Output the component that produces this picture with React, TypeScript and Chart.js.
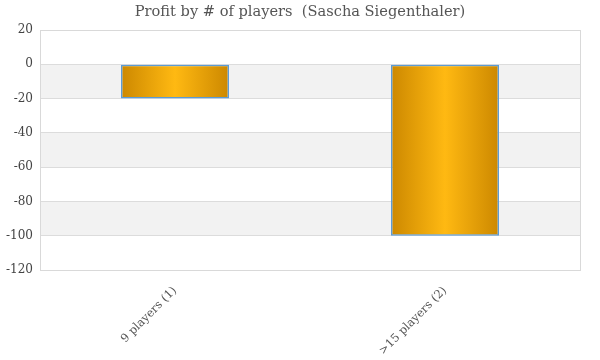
import React, { useEffect, useRef } from "react";
import { Chart, registerables } from "chart.js";

Chart.register(...registerables);

const categories = ["9 players (1)", ">15 players (2)"];
const profit = [-20, -100];
const yMin = -120;
const yMax = 20;
const yStep = 20;
const title = "Profit by # of players  (Sascha Siegenthaler)";

const FONT = "'DejaVu Serif', 'Liberation Serif', Georgia, serif";

const bandsPlugin = {
  id: "bands",
  beforeDraw(chart: any) {
    const { ctx, chartArea, scales } = chart;
    const y = scales.y;
    ctx.save();
    ctx.fillStyle = "#f2f2f2";
    for (let v = 0; v > yMin; v -= 2 * yStep) {
      const top = y.getPixelForValue(v);
      const bot = y.getPixelForValue(v - yStep);
      ctx.fillRect(chartArea.left, top, chartArea.right - chartArea.left, bot - top);
    }
    ctx.restore();
  },
  afterDatasetsDraw(chart: any) {
    const { ctx, chartArea } = chart;
    ctx.save();
    ctx.strokeStyle = "#d9d9d9";
    ctx.lineWidth = 1;
    ctx.strokeRect(
      Math.round(chartArea.left) + 0.5,
      Math.round(chartArea.top) + 0.5,
      Math.round(chartArea.right - chartArea.left),
      Math.round(chartArea.bottom - chartArea.top)
    );
    ctx.restore();
  },
  afterDraw(chart: any) {
    const { ctx, width } = chart;
    ctx.save();
    ctx.fillStyle = "#555555";
    ctx.font = `14.6px ${FONT}`;
    ctx.textAlign = "center";
    ctx.textBaseline = "middle";
    ctx.fillText(title, width / 2, 12);
    ctx.restore();
  },
};

function barGradient(context: any) {
  const chart = context.chart;
  const xs = chart.scales && chart.scales.x;
  if (!xs || !chart.chartArea) return "#e6a000";
  const cx = xs.getPixelForValue(context.dataIndex);
  const w = ((chart.chartArea.right - chart.chartArea.left) / categories.length) * 0.4;
  const g = chart.ctx.createLinearGradient(cx - w / 2, 0, cx + w / 2, 0);
  g.addColorStop(0, "#cc8800");
  g.addColorStop(0.5, "#ffb912");
  g.addColorStop(1, "#cc8800");
  return g;
}

export default function App() {
  const ref = useRef<HTMLCanvasElement>(null);
  useEffect(() => {
    if (!ref.current) return;
    const chart = new Chart(ref.current, {
      type: "bar",
      data: {
        labels: categories,
        datasets: [
          {
            label: "Profit",
            data: profit,
            backgroundColor: barGradient,
            borderColor: "#5b9bd5",
            borderWidth: 1.5,
            borderSkipped: false,
            barPercentage: 0.4,
            categoryPercentage: 1,
          },
        ],
      },
      options: {
        animation: false,
        responsive: true,
        maintainAspectRatio: false,
        layout: { padding: { left: 0, right: 20, top: 30, bottom: 0 } },
        plugins: {
          legend: { display: false },
          tooltip: { enabled: false },
          title: { display: false },
        },
        scales: {
          x: {
            grid: { display: false },
            border: { display: false },
            afterFit: (s: any) => {
              s.height = 90;
            },
            ticks: {
              color: "#555555",
              font: { family: FONT, size: 11.5 },
              minRotation: 45,
              maxRotation: 45,
              padding: 6,
            },
          },
          y: {
            min: yMin,
            max: yMax,
            grid: { color: "#dcdcdc", drawTicks: false },
            border: { display: false },
            afterFit: (s: any) => {
              s.width = 40;
            },
            ticks: {
              stepSize: yStep,
              color: "#444444",
              font: { family: FONT, size: 12 },
              padding: 7,
            },
          },
        },
      },
      plugins: [bandsPlugin],
    });
    return () => chart.destroy();
  }, []);
  return (
    <div style={{ position: "absolute", left: 0, top: 0, width: 600, height: 360, background: "#fff" }}>
      <canvas ref={ref} />
    </div>
  );
}
